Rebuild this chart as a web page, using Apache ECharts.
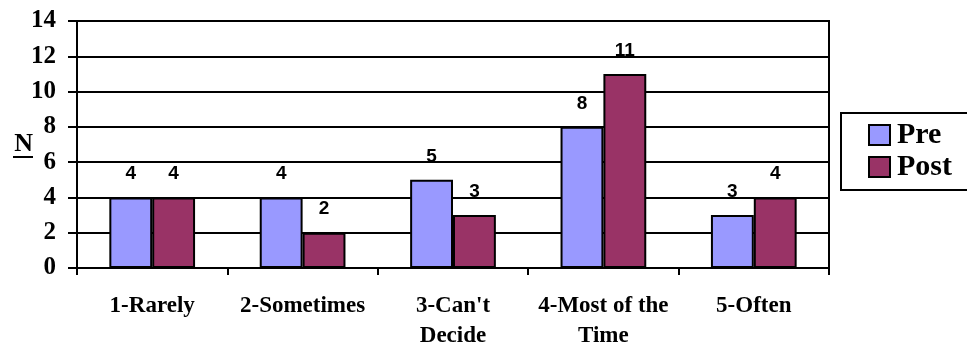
<!DOCTYPE html>
<html>
<head>
<meta charset="utf-8">
<script src="https://cdn.jsdelivr.net/npm/echarts@6/dist/echarts.min.js"></script>
<style>
  html, body { margin: 0; padding: 0; background: #fff; }
  #chart { width: 967px; height: 345px; }
</style>
</head>
<body>
<div id="chart"></div>
<script>
// Response categories along the x axis
const categories = ['1-Rarely', '2-Sometimes', "3-Can't\nDecide", '4-Most of the\nTime', '5-Often'];
// Counts per response
const preValues = [4, 4, 5, 8, 3];
const postValues = [4, 2, 3, 11, 4];
// Value axis range
const yMin = 0, yMax = 14, yStep = 2;

const serif = '"Liberation Serif", "Times New Roman", serif';
const sans = '"Liberation Sans", Arial, sans-serif';

const chart = echarts.init(document.getElementById('chart'), null, { renderer: 'canvas' });

const valueLabel = {
  show: true,
  position: 'top',
  distance: 14,
  color: '#000',
  fontFamily: sans,
  fontWeight: 'bold',
  fontSize: 19
};

chart.setOption({
  animation: false,
  backgroundColor: '#fff',
  grid: {
    left: 77, right: 138, top: 21, bottom: 77,
    outerBoundsMode: 'none',
    containLabel: false,
    show: true, borderColor: '#000', borderWidth: 2, backgroundColor: 'transparent'
  },
  legend: {
    orient: 'vertical',
    left: 841, top: 113,
    padding: [7, 30, 8, 27],
    itemGap: 2,
    itemWidth: 21, itemHeight: 20,
    icon: 'rect',
    borderColor: '#000', borderWidth: 2,
    textStyle: { fontFamily: serif, fontWeight: 'bold', fontSize: 30, color: '#000', padding: [0, 0, 0, 2] },
    data: ['Pre', 'Post']
  },
  xAxis: {
    type: 'category',
    data: categories,
    axisLine: { lineStyle: { color: '#000', width: 2 } },
    axisTick: { show: true, length: 7, lineStyle: { color: '#000', width: 2 } },
    axisLabel: {
      color: '#000', fontFamily: serif, fontWeight: 'bold', fontSize: 23,
      lineHeight: 30, margin: 23, interval: 0
    }
  },
  yAxis: {
    type: 'value',
    min: yMin, max: yMax, interval: yStep,
    name: 'N',
    nameLocation: 'middle',
    nameRotate: 0,
    nameGap: 44,
    nameMoveOverlap: false,
    nameTextStyle: { color: '#000', fontFamily: serif, fontWeight: 'bold', fontSize: 26, padding: [4, 0, 0, 0] },
    axisLine: { show: true, lineStyle: { color: '#000', width: 2 } },
    axisTick: { show: true, length: 9, lineStyle: { color: '#000', width: 2 } },
    axisLabel: { color: '#000', fontFamily: serif, fontWeight: 'bold', fontSize: 25, margin: 21 },
    splitLine: { show: true, lineStyle: { color: '#000', width: 2 } }
  },
  graphic: [
    // underline beneath the axis name
    { type: 'rect', left: 13, top: 156, shape: { width: 20, height: 2 }, style: { fill: '#000' }, silent: true }
  ],
  series: [
    {
      name: 'Pre', type: 'bar', data: preValues,
      barGap: '0%', barCategoryGap: '43%',
      itemStyle: { color: '#9999FF', borderColor: '#000', borderWidth: 2 },
      label: valueLabel
    },
    {
      name: 'Post', type: 'bar', data: postValues,
      itemStyle: { color: '#993366', borderColor: '#000', borderWidth: 2 },
      label: valueLabel
    }
  ]
});
</script>
</body>
</html>
